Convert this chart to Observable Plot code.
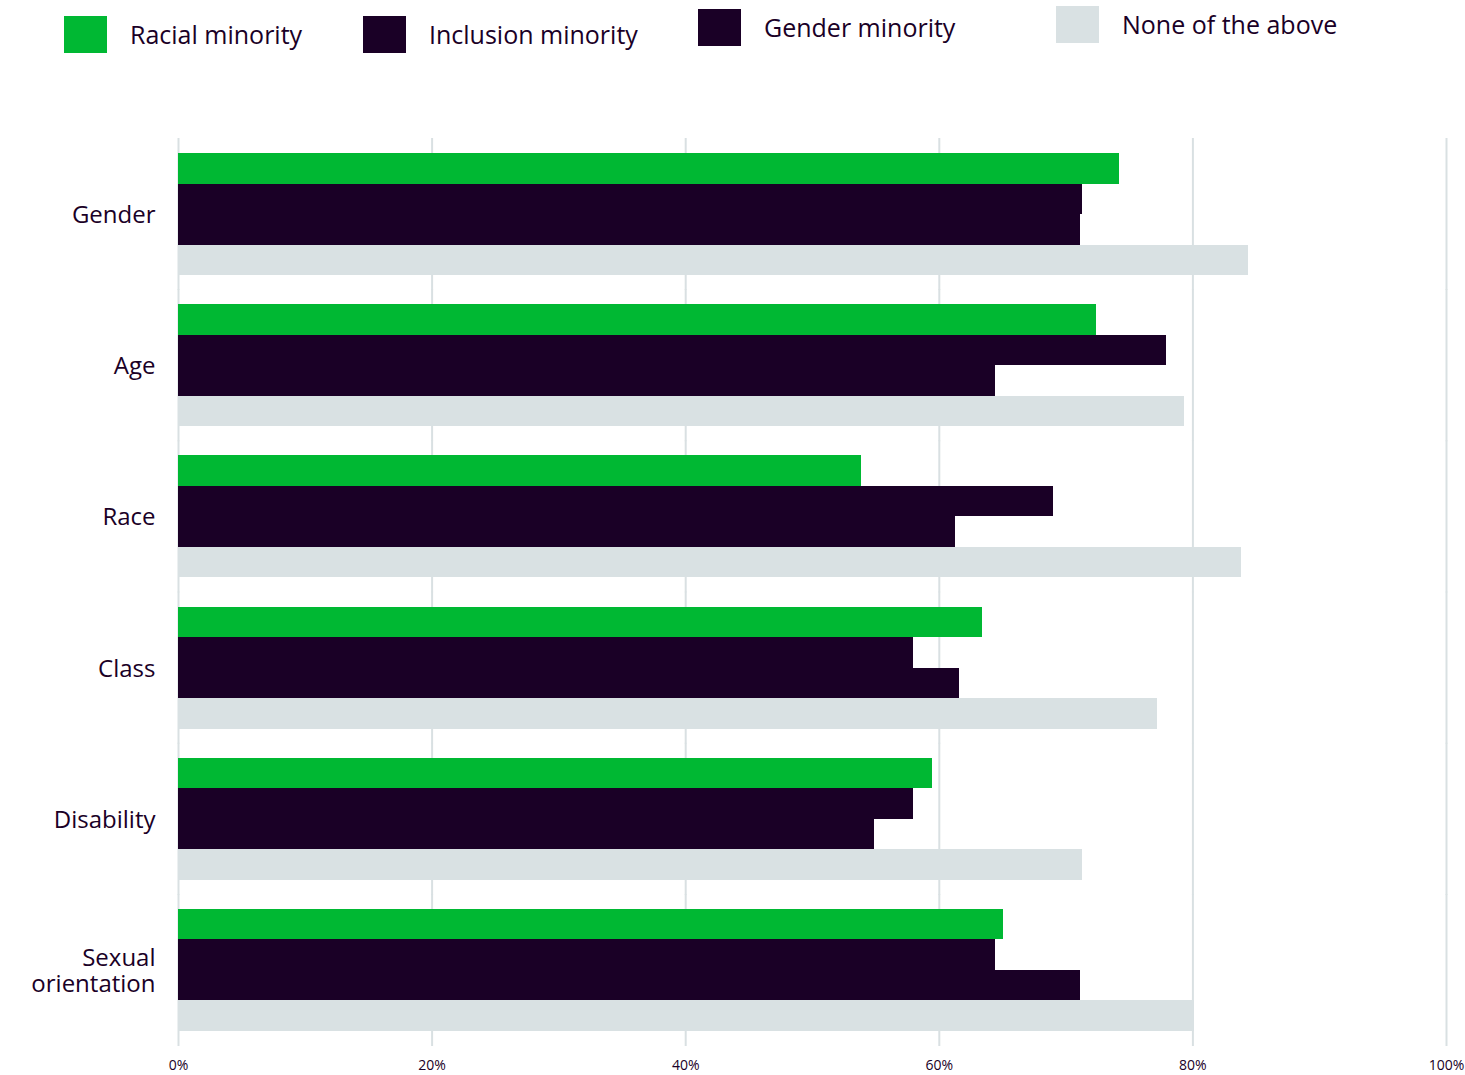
<!DOCTYPE html>
<html>
<head>
<meta charset="utf-8">
<script src="https://cdn.jsdelivr.net/npm/d3@7"></script>
<script src="https://cdn.jsdelivr.net/npm/@observablehq/plot@0.6"></script>
<style>
  html, body { margin: 0; padding: 0; background: #ffffff; }
  body { width: 1465px; height: 1075px; position: relative; overflow: hidden; font-family: "Open Sans", Lato, sans-serif; color: #1a0026; }
  #legend { position: absolute; left: 0; top: 0; width: 1465px; height: 90px; }
  .item { position: absolute; display: flex; align-items: center; }
  .swatch { width: 43px; height: 37px; margin-right: 23px; }
  .item span { font-size: 25px; line-height: 1; }
  #chart { position: absolute; left: 0; top: 100px; }
</style>
</head>
<body>
<div id="legend"></div>
<div id="chart"></div>
<script>
// Share of respondents per topic, by respondent group (percent)
const categories = ["Gender", "Age", "Race", "Class", "Disability", "Sexual orientation"];
const seriesNames = ["Racial minority", "Inclusion minority", "Gender minority", "None of the above"];
const racialMinority    = [74.2, 72.4, 53.9, 63.4, 59.5, 65.1];
const inclusionMinority = [71.3, 77.9, 69.0, 58.0, 58.0, 64.4];
const genderMinority    = [71.1, 64.4, 61.3, 61.6, 54.9, 71.1];
const noneOfTheAbove    = [84.4, 79.3, 83.8, 77.2, 71.3, 80.1];
const xTicks = [0, 20, 40, 60, 80, 100];

const seriesColors = ["#00b833", "#1a0026", "#1a0026", "#d9e1e3"];
const gridColor = "#d9e0e2";
const textColor = "#1a0026";

// Legend placement (left, top) of each swatch
const legendPos = [[64, 16], [363, 16], [698, 9], [1056, 6]];

const seriesValues = [racialMinority, inclusionMinority, genderMinority, noneOfTheAbove];
const rows = [];
categories.forEach((c, i) => {
  seriesNames.forEach((s, j) => {
    rows.push({category: c, series: s, value: seriesValues[j][i]});
  });
});

// Legend
const legend = document.getElementById("legend");
seriesNames.forEach((s, j) => {
  const item = document.createElement("div");
  item.className = "item";
  item.style.left = legendPos[j][0] + "px";
  item.style.top = legendPos[j][1] + "px";
  const sw = document.createElement("div");
  sw.className = "swatch";
  sw.style.background = seriesColors[j];
  const label = document.createElement("span");
  label.textContent = s;
  item.appendChild(sw);
  item.appendChild(label);
  legend.appendChild(item);
});

const chart = Plot.plot({
  width: 1465,
  height: 975,
  marginTop: 53,
  marginBottom: 44,
  marginLeft: 178,
  marginRight: 19,
  style: {fontFamily: "'Open Sans', Lato, sans-serif", color: textColor, background: "#ffffff"},
  x: {domain: [0, 100]},
  y: {domain: seriesNames, padding: 0, round: false, axis: null},
  fy: {domain: categories, paddingInner: 0.193, paddingOuter: 0, round: false, axis: null},
  color: {domain: seriesNames, range: seriesColors},
  marks: [
    // vertical grid, bridged across the gaps between groups
    Plot.ruleX(xTicks, {stroke: gridColor, strokeWidth: 2, insetTop: -15, insetBottom: -15}),
    Plot.barX(rows, {x: "value", y: "series", fy: "category", fill: "series", shapeRendering: "crispEdges"}),
    Plot.axisFy({
      anchor: "left",
      tickSize: 0,
      tickPadding: 23,
      fontSize: 24,
      lineHeight: 1.1,
      label: null,
      tickFormat: d => d === "Sexual orientation" ? "Sexual\norientation" : d
    }),
    Plot.axisX({
      ticks: xTicks,
      tickFormat: d => d + "%",
      tickSize: 0,
      tickPadding: 29,
      fontSize: 14,
      label: null
    })
  ]
});
document.getElementById("chart").appendChild(chart);
</script>
</body>
</html>
